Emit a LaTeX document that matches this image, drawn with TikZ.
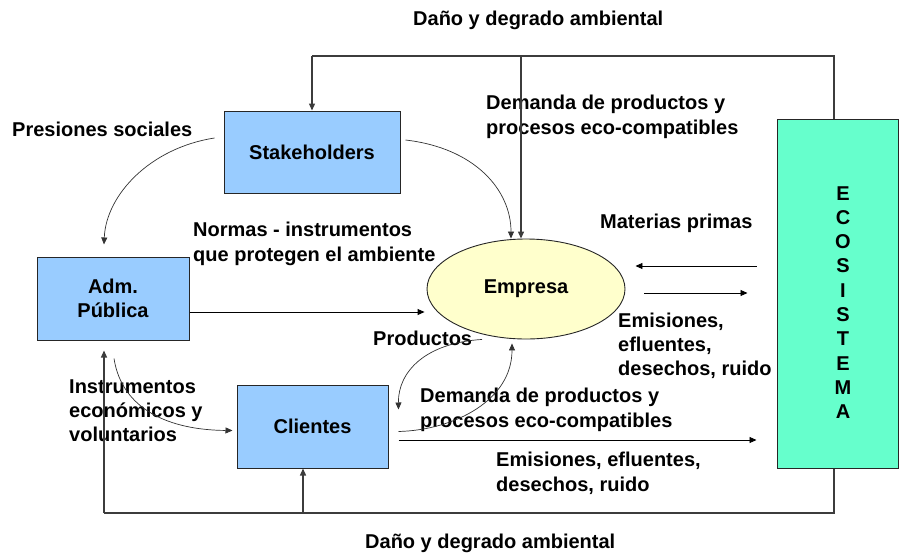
\documentclass[tikz,border=0pt]{standalone}
\usepackage{fontspec}
\setmainfont{Liberation Sans}
\usetikzlibrary{arrows.meta,shapes.geometric,calc}
\definecolor{boxblue}{RGB}{153,204,255}
\definecolor{ecogreen}{RGB}{102,255,204}
\definecolor{empyellow}{RGB}{255,255,204}
\definecolor{linegray}{RGB}{60,60,60}
\begin{document}
\begin{tikzpicture}[x=1pt,y=-1pt,
  every node/.style={font=\fontsize{20}{24.3}\selectfont\bfseries},
  bluebox/.style={draw=black!85,line width=1pt,fill=boxblue,rectangle,inner sep=0pt,align=center},
  lbl/.style={anchor=base west,inner sep=0pt,align=left},
  arr/.style={-{Triangle[length=7pt,width=6pt]},line width=0.9pt,black},
  curv/.style={-{Triangle[length=7pt,width=6pt]},line width=0.7pt,black!80},
  fb/.style={line width=1.3pt,linegray}]
\useasboundingbox (0,0) rectangle (899,554);
% nodes
\node[bluebox,minimum width=176pt,minimum height=82pt] (stake) at (312,152) {Stakeholders};
\node[bluebox,minimum width=152pt,minimum height=83pt] (adm) at (113,298.5) {Adm.\\Pública};
\node[bluebox,minimum width=151pt,minimum height=83pt] (cli) at (312.5,426.5) {Clientes};
\node[draw=black!85,line width=1pt,fill=ecogreen,rectangle,inner sep=0pt,minimum width=121pt,minimum height=349pt] (eco) at (837.5,293.5) {};
\node[anchor=base,inner sep=0pt,align=center] (ecotxt) at (843,418.7) {E\\C\\O\\S\\I\\S\\T\\E\\M\\A};
\node[draw=black!85,line width=0.9pt,fill=empyellow,ellipse,inner sep=0pt,minimum width=198pt,minimum height=100pt] (emp) at (526,289) {Empresa};
% labels (anchor at baseline of last line)
\node[lbl] (t1) at (413,25) {Daño y degrado ambiental};
\node[lbl] (t2) at (486,134) {Demanda de productos y\\procesos eco-compatibles};
\node[lbl] (t3) at (12,136) {Presiones sociales};
\node[lbl] (t4) at (193,261) {Normas - instrumentos\\que protegen el ambiente};
\node[lbl] (t5) at (600,228) {Materias primas};
\node[lbl] (t6) at (373,345) {Productos};
\node[lbl] (t7) at (618,375.6) {Emisiones,\\efluentes,\\desechos, ruido};
\node[lbl] (t8) at (69,441.6) {Instrumentos\\económicos y\\voluntarios};
\node[lbl] (t9) at (420,427) {Demanda de productos y\\procesos eco-compatibles};
\node[lbl] (t10) at (496,491) {Emisiones, efluentes,\\desechos, ruido};
\node[lbl] (t11) at (365,548) {Daño y degrado ambiental};
% feedback coordinates
\coordinate (tr) at (834,56);
\coordinate (tl) at (312,56);
\coordinate (tm) at (521,56);
\coordinate (br) at (834,513);
\coordinate (bl) at (104,513);
\coordinate (bm) at (303,513);
% top feedback
\draw[fb] (eco.north -| tr) -- (tr) -- (tl);
\draw[fb,-{Triangle[length=7pt,width=6pt]}] (tl) -- (stake.north);
\draw[fb,-{Triangle[length=7pt,width=6pt]}] (tm) -- (tm |- emp.north);
% bottom feedback
\draw[fb] (eco.south -| br) -- (br) -- (bl);
\draw[fb,-{Triangle[length=7pt,width=6pt]}] (bl) -- ($(bl |- adm.south)+(0,10)$);
\draw[fb,-{Triangle[length=7pt,width=6pt]}] (bm) -- (bm |- cli.south);
% straight arrows
\draw[arr] ($(adm.east)+(0,13.5)$) -- ($(emp.west)+(-2,23)$);
\draw[arr] ($(eco.west)+(-20,-27.5)$) -- ($(emp.east)+(10,-23)$);
\draw[arr] ($(emp.east)+(19,4)$) -- ($(eco.west)+(-29,-0.5)$);
\draw[arr] ($(cli.east)+(10,13.5)$) -- ($(eco.west)+(-20,146.5)$);
% curved arrows
\draw[curv] ($(stake.west)+(-9,-14)$) .. controls (150,148) and (106,195) .. ($(adm.north)+(-9,-12)$);
\draw[curv] ($(stake.east)+(5,-12)$) .. controls (475,148) and (511,190) .. ($(emp.north)+(-15,0)$);
\draw[curv] ($(adm.south)+(1,18)$) .. controls (122,410) and (170,430) .. ($(cli.west)+(-4,4)$);
\draw[curv] ($(emp.south)+(-44,0)$) .. controls (425,343) and (398,372) .. ($(cli.north east)+(10,25)$);
\draw[curv] ($(cli.east)+(10,5)$) .. controls (455,430) and (512,400) .. ($(emp.south)+(-14,4)$);
\end{tikzpicture}
\end{document}
